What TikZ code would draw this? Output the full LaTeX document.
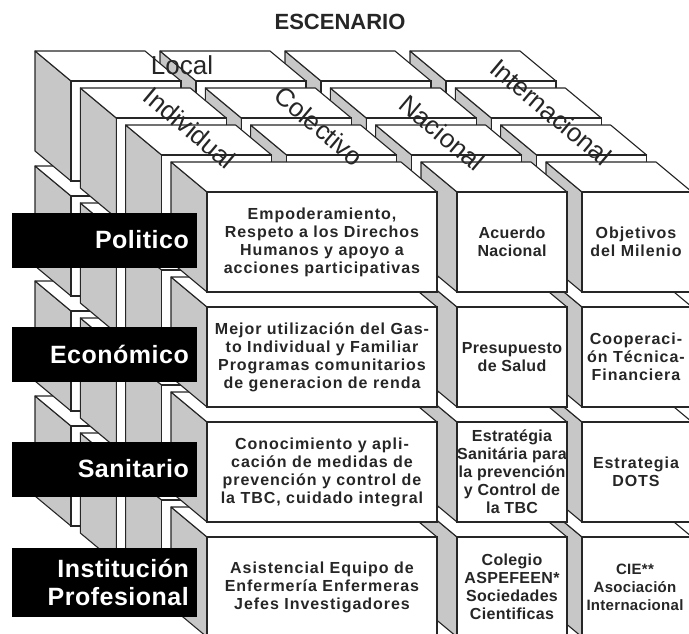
\documentclass[tikz,border=0pt]{standalone}
\usepackage{fontspec}
\setmainfont{Liberation Sans}
\newfontfamily\celdafont[LetterSpace=6]{Liberation Sans}
\newfontfamily\angostafont[LetterSpace=2]{Liberation Sans}
\newfontfamily\rotulofont[LetterSpace=2]{Liberation Sans}
\tikzset{
	lado/.style={fill=black!22, draw=black!85, line width=1.1pt, line join=round},
	tapa/.style={fill=white, draw=black!85, line width=1.1pt, line join=round},
	frente/.style={fill=white, draw=black!85, line width=1.1pt},
	celda/.style={align=center, text=black!85, font=\celdafont\bfseries\fontsize{16}{18}\selectfont},
	angosta/.style={celda, font=\angostafont\bfseries\fontsize{16}{18}\selectfont},
	etiqueta/.style={fill=black, text=white, anchor=east, minimum width=185pt, minimum height=55pt,
		text width=169pt, align=right, inner xsep=8pt, font=\rotulofont\bfseries\fontsize{25}{28}\selectfont},
	eje/.style={text=black!85, font=\fontsize{26}{26}\selectfont}
}
% one box: front corner x, y, width, height (depth goes up-left)
\newcommand{\caja}[4]{%
	\filldraw[lado] (#1,#2) -- (#1,#2+#4) -- (#1-36,#2+#4-30) -- (#1-36,#2-30) -- cycle;
	\filldraw[tapa] (#1,#2) -- (#1+#3,#2) -- (#1+#3-36,#2-30) -- (#1-36,#2-30) -- cycle;
	\filldraw[frente] (#1,#2) rectangle (#1+#3,#2+#4);
}

\begin{document}
\begin{tikzpicture}[x=1pt, y=-1pt]
	% Fix the page to the size of the figure
	\useasboundingbox (0,0) rectangle (689,633);
	\clip (0,0) rectangle (689,633);
	
	% === BACK LAYERS ===
	% Three layers of 4 x 4 boxes, drawn from back to front.
	\foreach \k in {0,1,2} {
		\foreach \r in {3,2,1,0} {
			\foreach \c in {3,2,1,0} {
				\pgfmathsetmacro{\bx}{71+125*\c+45.3*\k}
				\pgfmathsetmacro{\by}{81+115*\r+37*\k}
				\caja{\bx}{\by}{110}{100}
			}
		}
	}
	
	% === FRONT LAYER ===
	% The first two columns are merged into one wide box.
	\foreach \r in {3,2,1,0} {
		\pgfmathsetmacro{\by}{192+115*\r}
		\caja{582}{\by}{110}{100}
		\caja{457}{\by}{110}{100}
		\caja{207}{\by}{230}{100}
	}
	
	% === CELL TEXTS ===
	\node[celda] (empoderamiento) at (322,242) {Empoderamiento,\\Respeto a los Direchos\\Humanos y apoyo a\\acciones participativas};
	\node[angosta] (acuerdo) at (512,242) {Acuerdo\\Nacional};
	\node[celda] (objetivos) at (636,242) {Objetivos\\del Milenio};
	
	\node[celda] (gasto) at (322,357) {Mejor utilización del Gas-\\to Individual y Familiar\\Programas comunitarios\\de generacion de renda};
	\node[angosta] (presupuesto) at (512,357) {Presupuesto\\de Salud};
	\node[celda] (cooperacion) at (636,357) {Cooperaci-\\ón Técnica-\\Financiera};
	
	\node[celda] (conocimiento) at (322,472) {Conocimiento y apli-\\cación de medidas de\\prevención y control de\\la TBC, cuidado integral};
	\node[angosta] (estrategia) at (512,472) {Estratégia\\Sanitária para\\la prevención\\y Control de\\la TBC};
	\node[celda] (dots) at (636,472) {Estrategia\\DOTS};
	
	\node[celda] (asistencial) at (322,587) {Asistencial Equipo de\\Enfermería Enfermeras\\Jefes Investigadores};
	\node[angosta] (colegio) at (512,587) {Colegio\\ASPEFEEN*\\Sociedades\\Cientificas};
	\node[angosta, font=\angostafont\bfseries\fontsize{15}{18}\selectfont] (cie) at (635,587) {CIE**\\Asociación\\Internacional};
	
	% === ROW LABELS ===
	\node[etiqueta] (politico) at (197,240) {Politico};
	\node[etiqueta] (economico) at (197,354) {Económico};
	\node[etiqueta] (sanitario) at (197,469) {Sanitario};
	\node[etiqueta, minimum height=69pt] (institucion) at (197,582) {Institución\\Profesional};
	
	% === SCENARIO LABELS ===
	\node[font=\bfseries\fontsize{22}{22}\selectfont, text=black!85] (escenario) at (340,22) {ESCENARIO};
	\node[eje] (local) at (182,65) {Local};
	\node[eje, rotate=-40] (individual) at (190,128) {Individual};
	\node[eje, rotate=-40] (colectivo) at (319,126) {Colectivo};
	\node[eje, rotate=-40] (nacional) at (442,133) {Nacional};
	\node[eje, rotate=-40] (internacional) at (551,112) {Internacional};
\end{tikzpicture}
\end{document}
